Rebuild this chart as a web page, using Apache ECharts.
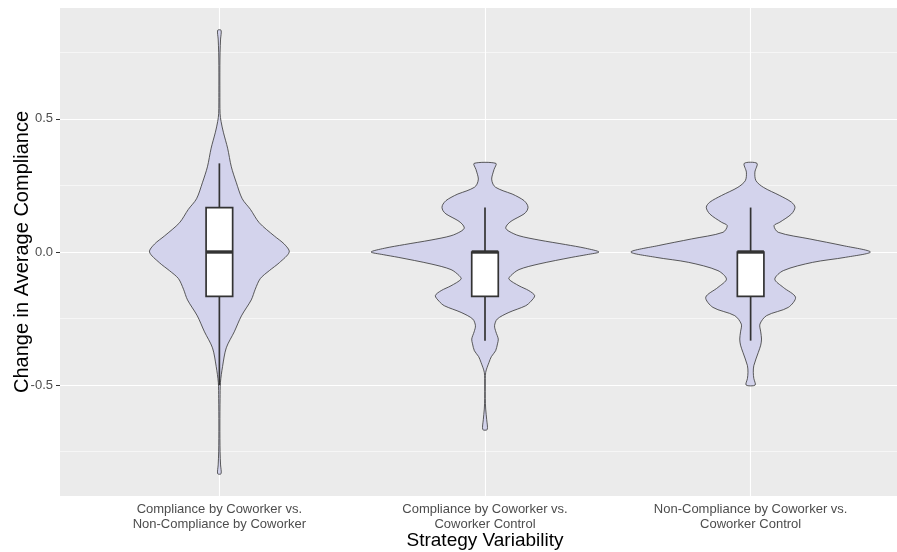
<!DOCTYPE html>
<html><head><meta charset="utf-8">
<script src="https://cdn.jsdelivr.net/npm/echarts@6/dist/echarts.min.js"></script>
<style>html,body{margin:0;padding:0;background:#fff}#c{width:897px;height:552px}</style>
</head><body><div id="c"></div>
<script>
// ---- data ----
const categories = [
  'Compliance by Coworker vs.\nNon-Compliance by Coworker',
  'Compliance by Coworker vs.\nCoworker Control',
  'Non-Compliance by Coworker vs.\nCoworker Control'
];
const yTicks = [-0.5, 0, 0.5];
const yMinorTicks = [-0.75, -0.25, 0.25, 0.75];
const yMin = -0.9167, yMax = 0.9167;

// violin outlines: value (y) and half width (x-axis units)
const violin1Y = [0.833,0.80,0.75,0.70,0.60,0.52,0.49,0.45,0.39,0.32,0.26,0.20,0.16,0.11,0.06,0.03,0.00,-0.04,-0.07,-0.10,-0.14,-0.18,-0.24,-0.30,-0.36,-0.43,-0.49,-0.55,-0.65,-0.75,-0.80,-0.833];
const violin1W = [0.0064,0.0045,0.0026,0.0019,0.0019,0.0026,0.0064,0.015,0.031,0.045,0.064,0.086,0.117,0.150,0.207,0.244,0.263,0.226,0.188,0.154,0.135,0.120,0.083,0.056,0.026,0.012,0.004,0.0026,0.0019,0.0026,0.0045,0.0064];

const violin2Y = [0.333,0.31,0.29,0.274,0.255,0.243,0.230,0.218,0.205,0.193,0.180,0.168,0.155,0.143,0.130,0.118,0.105,0.090,0.078,0.061,0.045,0.028,0.014,0.000,-0.010,-0.020,-0.045,-0.066,-0.089,-0.102,-0.127,-0.145,-0.164,-0.185,-0.202,-0.227,-0.252,-0.277,-0.300,-0.327,-0.345,-0.371,-0.393,-0.415,-0.452,-0.50,-0.55,-0.59,-0.63,-0.667];
const violin2W = [0.041,0.034,0.028,0.025,0.030,0.040,0.068,0.102,0.128,0.147,0.158,0.162,0.158,0.147,0.124,0.102,0.086,0.078,0.090,0.128,0.203,0.303,0.379,0.429,0.383,0.327,0.203,0.128,0.097,0.090,0.128,0.165,0.187,0.173,0.153,0.090,0.046,0.036,0.041,0.050,0.047,0.040,0.024,0.015,0.0026,0.0011,0.0011,0.0026,0.0064,0.0083];

const violin3Y = [0.333,0.300,0.268,0.243,0.212,0.187,0.168,0.143,0.112,0.099,0.074,0.049,0.024,0.000,-0.020,-0.039,-0.070,-0.102,-0.133,-0.170,-0.208,-0.239,-0.271,-0.300,-0.327,-0.350,-0.377,-0.427,-0.452,-0.475,-0.500];
const violin3W = [0.024,0.016,0.020,0.048,0.110,0.154,0.167,0.154,0.110,0.088,0.104,0.223,0.348,0.451,0.357,0.233,0.123,0.091,0.123,0.169,0.142,0.060,0.035,0.038,0.041,0.038,0.029,0.012,0.010,0.012,0.017];

// boxplot statistics
const boxLow    = [-0.5,   -0.333, -0.333];
const boxQ1     = [-0.167, -0.167, -0.167];
const boxMedian = [0, 0, 0];
const boxQ3     = [0.167, 0, 0];
const boxHigh   = [0.333, 0.167, 0.167];

// ---- chart ----
const violinY = [violin1Y, violin2Y, violin3Y];
const violinW = [violin1W, violin2W, violin3W];
const FONT = "'Liberation Sans', Arial, sans-serif";
const BOX_HALF = 0.05;

const chart = echarts.init(document.getElementById('c'), null, {renderer: 'canvas'});

function renderViolin(params, api) {
  const i = params.dataIndex;
  const cx = i + 1;
  const ys = violinY[i], ws = violinW[i];
  const pts = [];
  for (let k = 0; k < ys.length; k++) pts.push(api.coord([cx + ws[k], ys[k]]));
  for (let k = ys.length - 1; k >= 0; k--) pts.push(api.coord([cx - ws[k], ys[k]]));
  return {
    type: 'polygon',
    shape: {points: pts, smooth: 0.3},
    style: {fill: '#D3D3EC', stroke: '#333333', lineWidth: 0.8}
  };
}

function renderBox(params, api) {
  const i = params.dataIndex;
  const cx = i + 1;
  const top = api.coord([cx, boxHigh[i]]);
  const q3 = api.coord([cx, boxQ3[i]]);
  const q1 = api.coord([cx, boxQ1[i]]);
  const bot = api.coord([cx, boxLow[i]]);
  const tl = api.coord([cx - BOX_HALF, boxQ3[i]]);
  const br = api.coord([cx + BOX_HALF, boxQ1[i]]);
  const ml = api.coord([cx - BOX_HALF, boxMedian[i]]);
  const mr = api.coord([cx + BOX_HALF, boxMedian[i]]);
  const st = {stroke: '#333333', lineWidth: 1.7};
  return {
    type: 'group',
    children: [
      {type: 'line', shape: {x1: top[0], y1: top[1], x2: q3[0], y2: q3[1]}, style: st},
      {type: 'line', shape: {x1: q1[0], y1: q1[1], x2: bot[0], y2: bot[1]}, style: st},
      {type: 'rect', shape: {x: tl[0], y: tl[1], width: br[0] - tl[0], height: br[1] - tl[1]},
        style: {fill: '#FFFFFF', stroke: '#333333', lineWidth: 1.7}},
      {type: 'line', shape: {x1: ml[0], y1: ml[1], x2: mr[0], y2: mr[1]}, style: {stroke: '#333333', lineWidth: 3.4}}
    ]
  };
}

const catIdx = categories.map((c, i) => [i + 1, 0]);

chart.setOption({
  animation: false,
  backgroundColor: '#FFFFFF',
  grid: {left: 60, right: -13, top: 8, bottom: 56, show: true, backgroundColor: '#EBEBEB', borderWidth: 0,
    containLabel: false, outerBoundsMode: 'none'},
  xAxis: {
    type: 'value', min: 0.4, max: 3.6,
    axisLine: {show: false},
    axisTick: {show: true, customValues: [1, 2, 3], length: 4, lineStyle: {color: '#333333', width: 1}},
    axisLabel: {customValues: [1, 2, 3], formatter: v => categories[Math.round(v) - 1],
      color: '#4D4D4D', fontSize: 13, lineHeight: 15, margin: 6, fontFamily: FONT},
    splitLine: {show: true, lineStyle: {color: '#FFFFFF', width: 1.1}},
    name: 'Strategy Variability', nameLocation: 'middle', nameGap: 35, nameMoveOverlap: false,
    nameTextStyle: {color: '#000000', fontSize: 19, fontFamily: FONT}
  },
  yAxis: [{
    type: 'value', min: yMin, max: yMax,
    axisLine: {show: false},
    axisTick: {show: true, customValues: yTicks, length: 4, lineStyle: {color: '#333333', width: 1}},
    axisLabel: {customValues: yTicks, formatter: v => v.toFixed(1), color: '#4D4D4D', fontSize: 13, margin: 7, fontFamily: FONT},
    splitLine: {show: true, lineStyle: {color: '#FFFFFF', width: 1.1}},
    name: 'Change in Average Compliance', nameLocation: 'middle', nameGap: 28, nameMoveOverlap: false,
    nameTextStyle: {color: '#000000', fontSize: 20, fontFamily: FONT}
  }, {
    type: 'value', min: yMin, max: yMax, position: 'left',
    axisLine: {show: false},
    axisTick: {show: false, customValues: yMinorTicks},
    axisLabel: {show: false, customValues: yMinorTicks},
    splitLine: {show: true, lineStyle: {color: '#FFFFFF', width: 0.55}}
  }],
  series: [{
    type: 'custom', name: 'violin', renderItem: renderViolin, data: catIdx, clip: true, z: 2
  }, {
    type: 'custom', name: 'box', renderItem: renderBox, data: catIdx, clip: true, z: 3
  }]
});
</script>
</body></html>
